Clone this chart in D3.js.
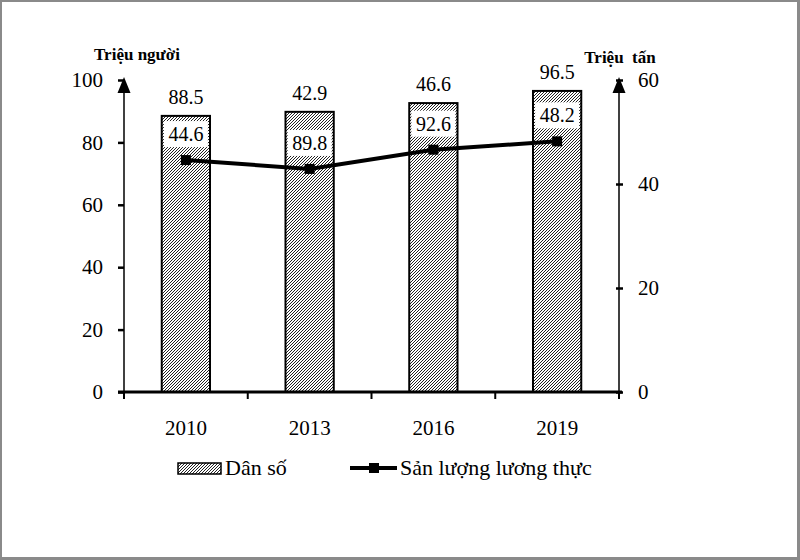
<!DOCTYPE html>
<html>
<head>
<meta charset="utf-8">
<script src="https://cdn.jsdelivr.net/npm/d3@7"></script>
<style>
  html, body { margin: 0; padding: 0; background: #fff; }
</style>
</head>
<body>
<svg id="chart" width="800" height="560"></svg>
<script>
// ---- data ----
const years = ["2010", "2013", "2016", "2019"];
const population = [88.5, 89.8, 92.6, 96.5];       // Dân số (Triệu người)
const foodOutput = [44.6, 42.9, 46.6, 48.2];       // Sản lượng lương thực (Triệu tấn)
const barTopLabels = ["88.5", "42.9", "46.6", "96.5"];   // labels as printed above bars
const pointLabels = ["44.6", "89.8", "92.6", "48.2"];    // labels as printed in white boxes
const leftTicks = [0, 20, 40, 60, 80, 100];
const rightTicks = [0, 20, 40, 60];
const leftTitle = "Triệu người";
const rightTitle = "Triệu  tấn";
const legendBar = "Dân số";
const legendLine = "Sản lượng lương thực";

const FONT = "'Liberation Serif', 'Times New Roman', Times, serif";
const svg = d3.select("#chart");

// frame
svg.append("rect").attr("x", 0).attr("y", 0).attr("width", 800).attr("height", 560).attr("fill", "#8a8a8a");
svg.append("rect").attr("x", 2).attr("y", 2).attr("width", 795).attr("height", 555).attr("fill", "#fff");

// hatch pattern
const defs = svg.append("defs");
const pat = defs.append("pattern").attr("id", "hatch").attr("patternUnits", "userSpaceOnUse")
  .attr("width", 3).attr("height", 3);
pat.append("rect").attr("width", 3).attr("height", 3).attr("fill", "#fff");
pat.append("path").attr("d", "M-0.75,0.75 L0.75,-0.75 M0,3 L3,0 M2.25,3.75 L3.75,2.25")
  .attr("stroke", "#222").attr("stroke-width", 1);

const x0 = 124, x1 = 619, yBase = 392, yTop = 80;
const x = d3.scaleBand().domain(years).range([x0, x1]).padding(0);
const yL = d3.scaleLinear().domain([0, 100]).range([yBase, yTop]);
const yR = d3.scaleLinear().domain([0, 60]).range([yBase, yTop]);
const barW = x.bandwidth() * 0.39;

// bars
svg.append("g").selectAll("rect").data(years).join("rect")
  .attr("x", d => x(d) + x.bandwidth() / 2 - barW / 2)
  .attr("y", (d, i) => yL(population[i]))
  .attr("width", barW)
  .attr("height", (d, i) => yBase - yL(population[i]))
  .attr("fill", "url(#hatch)")
  .attr("stroke", "#000").attr("stroke-width", 2);

// bar top labels
svg.append("g").selectAll("text").data(years).join("text")
  .attr("x", d => x(d) + x.bandwidth() / 2)
  .attr("y", (d, i) => yL(population[i]) - 12)
  .attr("text-anchor", "middle")
  .attr("font-size", 20)
  .text((d, i) => barTopLabels[i]);

// left axis
const axL = svg.append("g").attr("transform", `translate(${x0},0)`)
  .call(d3.axisLeft(yL).tickValues(leftTicks).tickSize(6).tickPadding(15).tickFormat(d3.format("d")));
axL.select(".domain").remove();
axL.selectAll(".tick line").attr("stroke", "#000").attr("stroke-width", 2.5);
axL.selectAll(".tick text").attr("font-size", 21);
svg.append("line").attr("x1", x0).attr("x2", x0).attr("y1", 86).attr("y2", yBase + 6)
  .attr("stroke", "#000").attr("stroke-width", 1.5);

// right axis
const axR = svg.append("g").attr("transform", `translate(${x1},0)`)
  .call(d3.axisRight(yR).tickValues(rightTicks).tickSize(4).tickPadding(15).tickFormat(d3.format("d")));
axR.select(".domain").remove();
axR.selectAll(".tick line").attr("x1", -3).attr("stroke", "#000").attr("stroke-width", 2.5);
axR.selectAll(".tick text").attr("font-size", 21);
svg.append("line").attr("x1", x1).attr("x2", x1).attr("y1", 86).attr("y2", yBase + 6)
  .attr("stroke", "#000").attr("stroke-width", 1.5);

// arrows
[x0, x1].forEach(ax => {
  svg.append("path")
    .attr("d", `M${ax},${yTop - 3} L${ax - 6.5},${yTop + 13} L${ax + 6.5},${yTop + 13} Z`)
    .attr("fill", "#000");
});

// bottom axis
const axB = svg.append("g").attr("transform", `translate(0,${yBase})`)
  .call(d3.axisBottom(x).tickSize(0).tickPadding(28));
axB.select(".domain").remove();
axB.selectAll(".tick text").attr("font-size", 21);
svg.append("line").attr("x1", x0 - 6).attr("x2", x1 + 3).attr("y1", yBase).attr("y2", yBase)
  .attr("stroke", "#000").attr("stroke-width", 3);
const boundaries = years.map(d => x(d)).concat([x1]);
svg.append("g").selectAll("line").data(boundaries).join("line")
  .attr("x1", d => d).attr("x2", d => d).attr("y1", yBase).attr("y2", yBase + 7)
  .attr("stroke", "#000").attr("stroke-width", 2);

// axis titles
svg.append("text").attr("x", 137).attr("y", 60).attr("text-anchor", "middle")
  .attr("font-size", 17).attr("font-weight", "bold").text(leftTitle);
svg.append("text").attr("x", 620).attr("y", 63).attr("text-anchor", "middle")
  .attr("font-size", 17).attr("font-weight", "bold").style("white-space", "pre").text(rightTitle);

// line series
const cx = (d) => x(d) + x.bandwidth() / 2;
const line = d3.line().x((d, i) => cx(years[i])).y(d => yR(d));
svg.append("path").datum(foodOutput).attr("d", line)
  .attr("fill", "none").attr("stroke", "#000").attr("stroke-width", 4);
svg.append("g").selectAll("rect").data(foodOutput).join("rect")
  .attr("x", (d, i) => cx(years[i]) - 5).attr("y", d => yR(d) - 5)
  .attr("width", 10).attr("height", 10).attr("fill", "#000");

// boxed point labels
const lblG = svg.append("g").selectAll("g").data(foodOutput).join("g")
  .attr("transform", (d, i) => `translate(${cx(years[i])},${yR(d) - 26})`);
lblG.append("rect").attr("x", -22).attr("y", -13).attr("width", 44).attr("height", 26).attr("fill", "#fff");
lblG.append("text").attr("text-anchor", "middle").attr("dy", "0.35em").attr("font-size", 20)
  .text((d, i) => pointLabels[i]);

// legend
svg.append("rect").attr("x", 178).attr("y", 463).attr("width", 43).attr("height", 11)
  .attr("fill", "url(#hatch)").attr("stroke", "#000").attr("stroke-width", 1.5);
svg.append("text").attr("x", 225).attr("y", 475).attr("font-size", 22).text(legendBar);
svg.append("line").attr("x1", 350).attr("x2", 397).attr("y1", 468).attr("y2", 468)
  .attr("stroke", "#000").attr("stroke-width", 4);
svg.append("rect").attr("x", 369).attr("y", 463).attr("width", 10).attr("height", 10).attr("fill", "#000");
svg.append("text").attr("x", 400).attr("y", 475).attr("font-size", 22).text(legendLine);

// font for every text
svg.selectAll("text").style("font-family", FONT).style("fill", "#000");
svg.selectAll("g").attr("font-family", null);
</script>
</body>
</html>
